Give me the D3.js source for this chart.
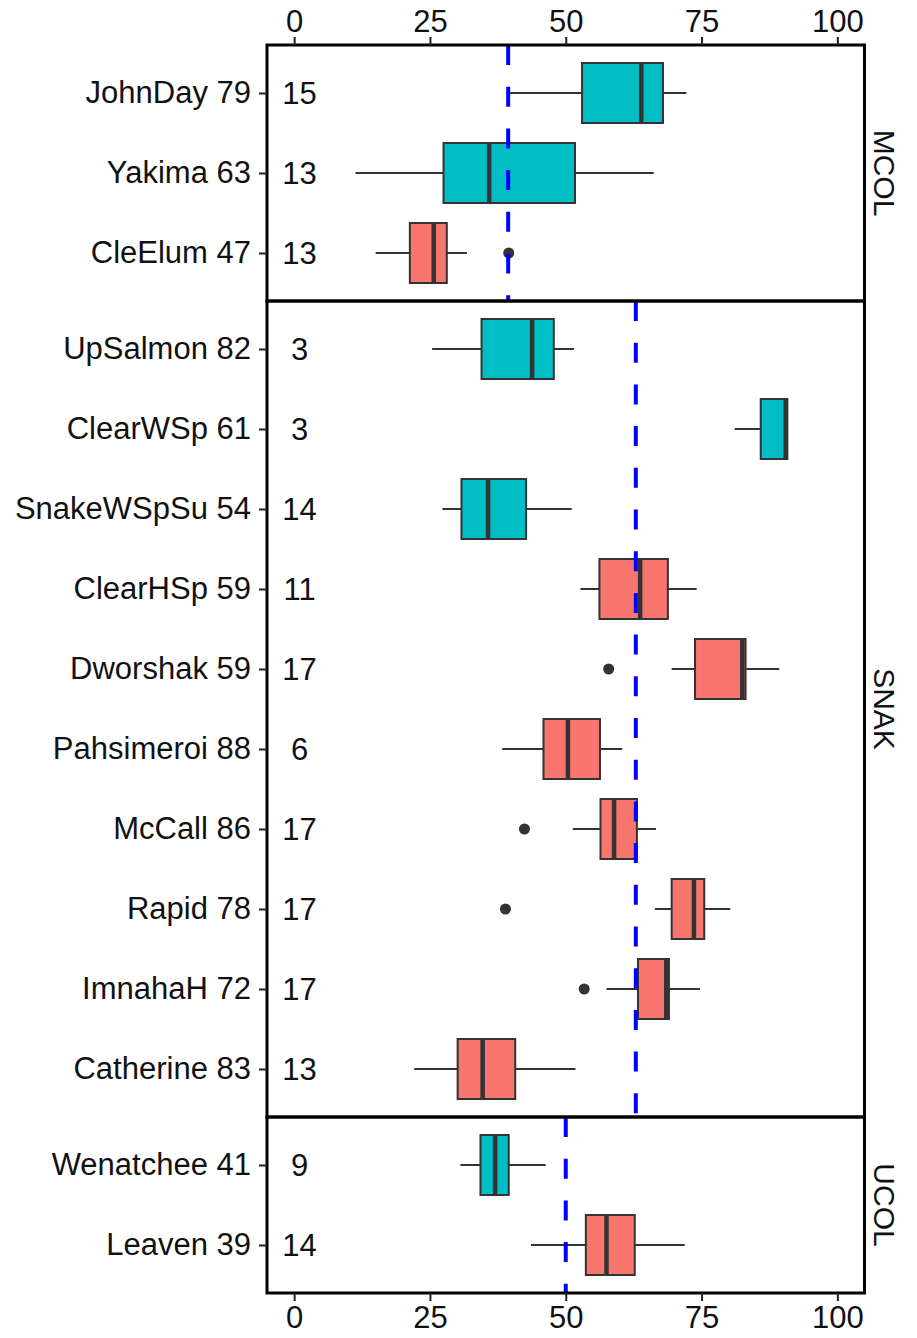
<!DOCTYPE html>
<html>
<head>
<meta charset="utf-8">
<script src="https://cdn.jsdelivr.net/npm/d3@7"></script>
<style>
  body { margin: 0; background: #fff; }
  text { font-family: "Liberation Sans", Arial, Helvetica, sans-serif; }
</style>
</head>
<body>
<svg id="chart" width="917" height="1338"></svg>
<script>
// facets, top to bottom
var groups = ["MCOL", "SNAK", "UCOL"];
var refLines = [39.4, 62.9, 50.0];

// one entry per row
var labels = ["JohnDay 79", "Yakima 63", "CleElum 47",
  "UpSalmon 82", "ClearWSp 61", "SnakeWSpSu 54", "ClearHSp 59", "Dworshak 59",
  "Pahsimeroi 88", "McCall 86", "Rapid 78", "ImnahaH 72", "Catherine 83",
  "Wenatchee 41", "Leaven 39"];
var groupOf = ["MCOL", "MCOL", "MCOL",
  "SNAK", "SNAK", "SNAK", "SNAK", "SNAK", "SNAK", "SNAK", "SNAK", "SNAK", "SNAK",
  "UCOL", "UCOL"];
var origin = ["W", "W", "H", "W", "W", "W", "H", "H", "H", "H", "H", "H", "H", "W", "H"];
var counts = [15, 13, 13, 3, 3, 14, 11, 17, 6, 17, 17, 17, 13, 9, 14];

var whiskerLow  = [39.5, 11.3, 15.0, 25.4, 81.1, 27.3, 52.7, 69.5, 38.3, 51.3, 66.4, 57.5, 22.1, 30.6, 43.6];
var q1          = [53.0, 27.5, 21.3, 34.5, 85.9, 30.8, 56.2, 73.8, 45.9, 56.4, 69.5, 63.3, 30.1, 34.3, 53.7];
var medians     = [63.9, 35.9, 25.7, 43.8, 90.5, 35.7, 63.7, 82.5, 50.4, 58.9, 73.6, 68.5, 34.7, 37.0, 57.5];
var q3          = [67.9, 51.7, 28.1, 47.8, 90.8, 42.7, 68.8, 83.1, 56.3, 63.1, 75.5, 69.0, 40.7, 39.5, 62.7];
var whiskerHigh = [72.2, 66.2, 31.8, 51.5, 90.8, 51.1, 74.1, 89.3, 60.4, 66.6, 80.3, 74.7, 51.8, 46.3, 71.9];
var outliers    = [[], [], [39.5], [], [], [], [], [57.9], [], [42.4], [38.9], [53.4], [], [], []];

var xTicks = [0, 25, 50, 75, 100];

var colors = { "W": "#00bec4", "H": "#f8766d" };

var fontSize = 31;

var svg = d3.select("#chart");

var x = d3.scaleLinear().domain([-5, 105]).range([267, 864.5]);

// panel heights follow the number of rows (free space facets)
var plotTop = 45, plotBottom = 1293;
var sizes = groups.map(function(g){ return groupOf.filter(function(d){ return d == g; }).length - 1 + 1.2; });
var unit = (plotBottom - plotTop) / d3.sum(sizes);

var panels = [];
var yPos = 0;
groups.forEach(function(g, i){
  let top = plotTop + yPos * unit;
  let h = sizes[i] * unit;
  yPos += sizes[i];
  let rows = labels.filter(function(d, j){ return groupOf[j] == g; });
  let y = d3.scalePoint().domain(rows).range([top, top + h]).padding(0.6);
  panels.push({ name: g, top: top, height: h, y: y, ref: refLines[i] });
});

var boxH = unit * 0.75;

panels.forEach(function(p){
  let g = svg.append("g");

  labels.forEach(function(lab, i){
    if(groupOf[i] != p.name){
      return;
    }
    let cy = p.y(lab);

    // whiskers
    g.append("line")
      .attr("x1", x(whiskerLow[i])).attr("x2", x(q1[i]))
      .attr("y1", cy).attr("y2", cy)
      .attr("stroke", "#333").attr("stroke-width", 2);
    g.append("line")
      .attr("x1", x(q3[i])).attr("x2", x(whiskerHigh[i]))
      .attr("y1", cy).attr("y2", cy)
      .attr("stroke", "#333").attr("stroke-width", 2);

    // box
    g.append("rect")
      .attr("x", x(q1[i]))
      .attr("y", cy - boxH / 2)
      .attr("width", x(q3[i]) - x(q1[i]))
      .attr("height", boxH)
      .attr("fill", colors[origin[i]])
      .attr("stroke", "#333")
      .attr("stroke-width", 2);

    // median
    g.append("line")
      .attr("x1", x(medians[i])).attr("x2", x(medians[i]))
      .attr("y1", cy - boxH / 2).attr("y2", cy + boxH / 2)
      .attr("stroke", "#333").attr("stroke-width", 4.5);

    outliers[i].forEach(function(v){
      g.append("circle")
        .attr("cx", x(v)).attr("cy", cy).attr("r", 5.5)
        .attr("fill", "#333");
    });

    // sample size
    g.append("text")
      .attr("x", x(1)).attr("y", cy)
      .attr("dy", "0.36em")
      .attr("text-anchor", "middle")
      .attr("font-size", fontSize)
      .attr("fill", "#111")
      .text(counts[i]);
  });

  // reference line
  g.append("line")
    .attr("x1", x(p.ref)).attr("x2", x(p.ref))
    .attr("y1", p.top).attr("y2", p.top + p.height)
    .attr("stroke", "#0000ff")
    .attr("stroke-width", 4)
    .attr("stroke-dasharray", "20,21.7");

  // panel border
  g.append("rect")
    .attr("x", x.range()[0]).attr("y", p.top)
    .attr("width", x.range()[1] - x.range()[0])
    .attr("height", p.height)
    .attr("fill", "none")
    .attr("stroke", "#000")
    .attr("stroke-width", 3);

  // y axis
  let yAxis = svg.append("g")
    .attr("transform", "translate(" + x.range()[0] + ",0)")
    .call(d3.axisLeft(p.y).tickSize(8).tickPadding(8));
  yAxis.select(".domain").remove();
  yAxis.selectAll(".tick line").attr("stroke", "#222").attr("stroke-width", 2);
  yAxis.selectAll(".tick text")
    .attr("font-size", fontSize)
    .attr("fill", "#111")
    .style("font-family", "'Liberation Sans', Arial, sans-serif");

  // strip label
  svg.append("text")
    .attr("transform", "translate(874," + (p.top + p.height / 2) + ") rotate(90)")
    .attr("text-anchor", "middle")
    .attr("font-size", fontSize - 1)
    .attr("fill", "#111")
    .text(p.name);
});

// top and bottom x axes
function styleX(sel){
  sel.select(".domain").remove();
  sel.selectAll(".tick line").attr("stroke", "#222").attr("stroke-width", 2);
  sel.selectAll(".tick text")
    .attr("font-size", fontSize)
    .attr("fill", "#111")
    .style("font-family", "'Liberation Sans', Arial, sans-serif");
}

svg.append("g")
  .attr("transform", "translate(0," + plotTop + ")")
  .call(d3.axisTop(x).tickValues(xTicks).tickSize(8).tickPadding(5))
  .call(styleX);

svg.append("g")
  .attr("transform", "translate(0," + plotBottom + ")")
  .call(d3.axisBottom(x).tickValues(xTicks).tickSize(8).tickPadding(5))
  .call(styleX);
</script>
</body>
</html>
